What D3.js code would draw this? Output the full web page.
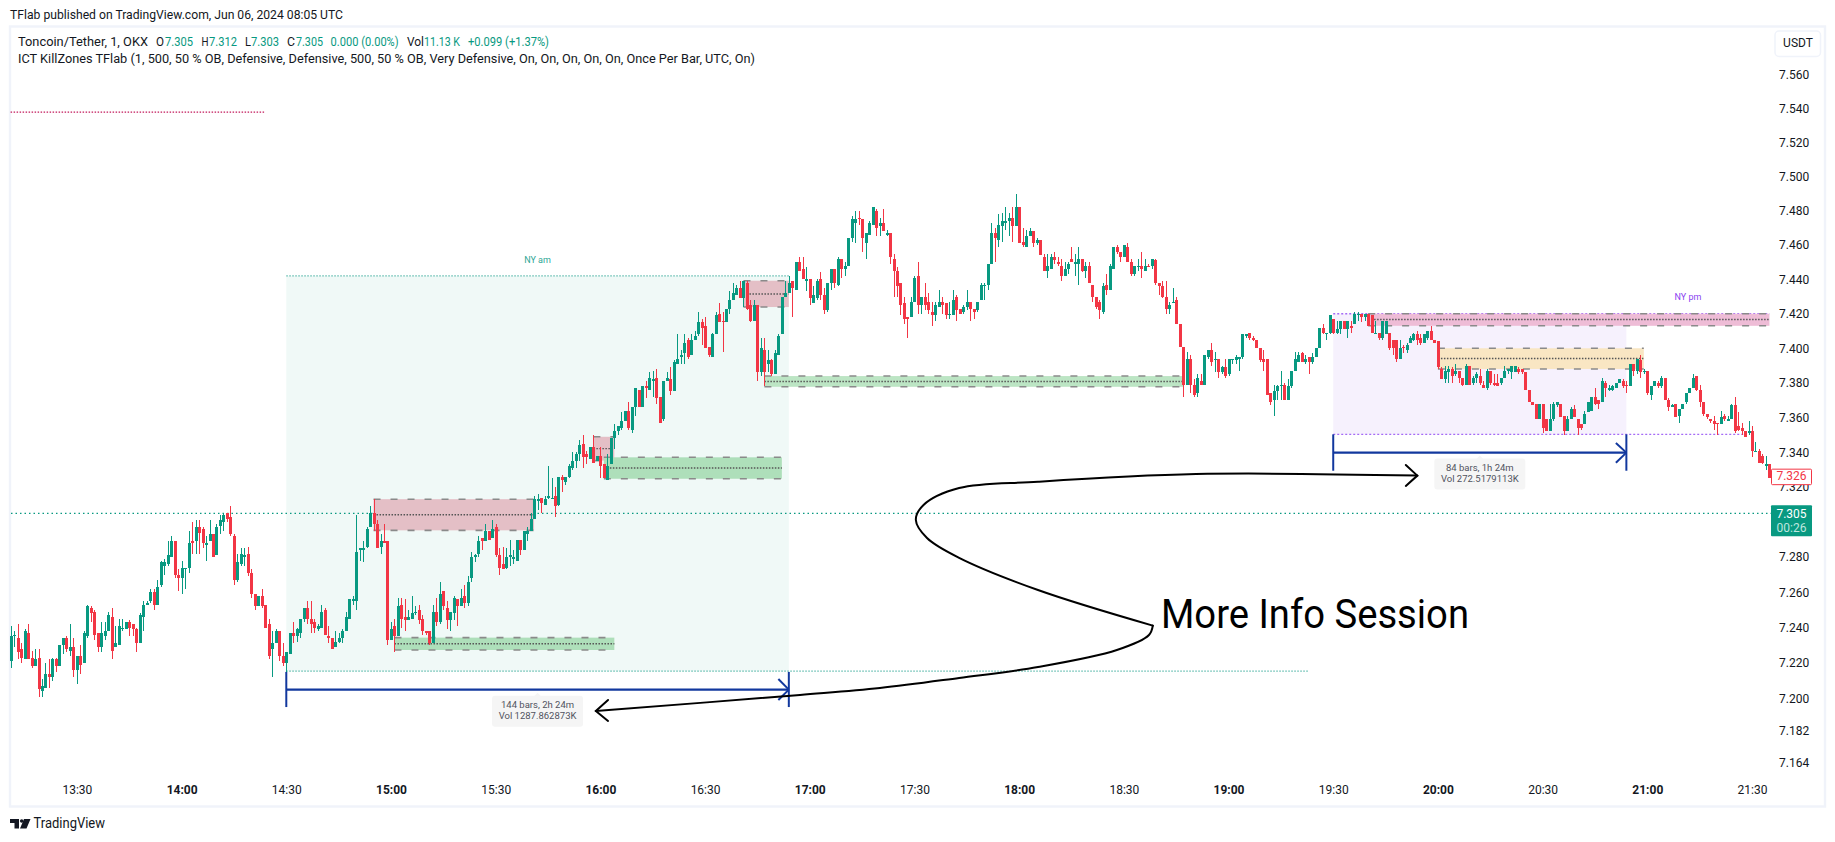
<!DOCTYPE html>
<html><head><meta charset="utf-8">
<style>html,body{margin:0;padding:0;background:#fff;overflow:hidden}svg{display:block}text{font-family:Roboto,"Liberation Sans",sans-serif}</style>
<script src="https://cdnjs.cloudflare.com/ajax/libs/d3/7.8.5/d3.min.js"></script>
</head><body><svg id="c" width="1835" height="842"></svg>
<script>
// Candles: [open, high, low, close] in thousandths above 7.000, one bar per minute from each start time
const startA="13:11";
const candlesA=[[221,241,217,235],[235,238,229,236],[234,242,222,226],[228,231,220,223],[222,239,222,238],[237,242,222,222],[223,227,217,218],[218,228,218,222],[223,228,201,205],[204,211,201,207],[206,220,206,214],[214,222,206,212],[212,223,210,222],[222,223,215,218],[218,230,218,230],[230,234,225,234],[234,235,226,228],[227,242,224,229],[229,234,212,216],[216,224,208,224],[224,230,214,219],[220,238,220,237],[235,253,234,252],[251,252,243,248],[249,250,233,236],[237,237,226,229],[229,243,226,237],[235,243,233,238],[238,249,238,247],[246,251,222,227],[229,241,229,231],[230,245,230,241],[239,245,238,240],[239,243,239,243],[243,244,235,240],[242,242,235,239],[239,240,226,231],[231,248,231,247],[246,255,238,253],[253,255,253,254],[255,262,254,260],[260,262,250,253],[253,267,253,263],[264,278,263,277],[275,279,270,277],[276,289,275,281],[280,292,280,289],[289,289,268,270],[270,273,261,268],[268,278,259,274],[273,274,262,274],[274,295,271,288],[289,300,282,288],[289,301,282,297],[297,301,282,294],[296,297,285,288],[287,292,278,288],[289,301,289,293],[293,293,280,280],[281,299,281,297],[298,304,293,301],[300,305,295,304],[305,305,300,302],[303,309,292,293],[292,293,264,267],[267,282,266,277],[276,285,275,282],[281,285,275,281],[282,286,269,271],[271,273,257,259],[259,259,250,252],[252,258,252,258],[258,262,251,252],[253,253,240,240],[242,245,222,224],[228,238,212,231],[231,239,231,238],[238,238,221,224],[224,231,218,220],[220,226,213,226],[225,237,225,237],[237,243,231,235],[235,240,232,239],[237,245,234,245],[245,251,243,251],[251,255,242,245],[245,255,237,242],[243,245,237,240],[239,242,238,241],[240,253,240,249],[250,251,236,236],[235,241,231,234],[234,234,228,228],[229,238,229,232],[232,237,231,234],[234,239,231,238],[238,249,238,246],[245,256,245,256],[255,258,253,256],[255,304,250,283],[284,285,278,285],[284,289,277,285],[286,297,285,296],[297,309,297,305],[305,313,295,299],[299,301,285,285],[286,293,282,289],[289,299,288,288],[289,289,230,233],[233,243,233,239],[241,245,226,235],[235,257,235,252],[253,257,240,245],[246,256,238,244],[244,250,244,246],[245,258,245,248],[248,252,247,249]];
const startB="15:08";
const candlesB=[[250,253,242,244],[245,247,236,238],[238,238,236,237],[238,238,230,231],[231,253,231,249],[249,257,241,243],[243,266,242,259],[261,261,250,252],[251,255,239,244],[244,249,238,249],[248,258,244,257],[256,256,241,252],[252,262,252,257],[258,264,251,254],[254,269,252,266],[268,283,266,280],[280,282,277,281],[282,292,280,289],[291,291,284,289],[289,299,289,295],[295,295,290,290],[291,301,291,296],[297,299,280,281],[281,285,270,274],[276,286,273,273],[274,285,273,280],[281,290,275,281],[280,284,276,280],[278,290,278,290],[290,290,281,284],[284,295,284,295],[293,297,289,295],[295,305,295,302],[302,315,302,313],[313,316,307,313],[314,314,305,311],[310,315,310,313],[314,332,313,315],[314,325,313,314],[315,320,303,309],[310,326,309,326],[326,327,317,324],[323,326,321,326],[326,333,325,332],[331,340,330,335],[335,340,331,339],[339,347,335,344],[345,350,331,337],[339,341,333,337],[336,343,336,343],[343,350,334,334],[335,338,335,338],[338,343,325,332],[333,333,325,325],[324,339,324,332],[333,348,333,348],[348,356,342,352],[352,355,350,355],[354,363,353,358],[358,364,358,364],[364,369,353,354],[353,366,351,366],[366,377,361,377],[376,376,366,366],[366,378,366,378],[378,381,371,377],[376,386,376,383],[382,387,372,382],[383,388,368,371],[372,372,357,357],[359,381,358,381],[381,386,381,383],[382,389,373,375],[375,393,375,392],[391,408,391,394],[396,399,391,396],[397,408,391,403],[405,406,394,395],[396,408,396,405],[405,410,405,407],[408,421,407,415],[415,417,402,412],[413,418,400,400],[401,401,395,396],[395,409,395,408],[408,421,408,419],[420,426,415,415],[416,421,398,415],[415,423,415,423],[423,433,420,428],[428,438,428,432],[431,437,431,435],[435,439,429,429],[429,439,424,439],[438,439,422,423],[425,428,415,416],[416,428,416,425],[425,425,381,386],[386,406,384,400],[399,406,378,386],[391,399,386,393],[393,394,384,385],[385,399,385,397],[396,408,396,407],[408,430,408,430],[430,439,430,432],[432,442,432,438],[439,439,418,435],[434,450,434,450],[450,453,445,445],[446,453,440,440],[440,447,433,440],[440,440,425,429],[426,436,426,431],[429,440,428,439]];
const startC="17:03";
const candlesC=[[440,444,428,431],[431,435,420,422],[422,438,421,438],[438,446,434,446],[446,446,435,438],[437,453,436,452],[452,452,441,446],[446,450,442,448],[448,464,448,464],[464,477,462,475],[473,480,461,475],[476,480,472,475],[475,475,456,464],[461,467,452,467],[466,474,466,473],[472,482,472,482],[480,481,465,470],[471,476,465,473],[473,481,468,468],[466,469,465,467],[467,467,449,453],[452,455,430,445],[445,447,430,436],[438,438,419,425],[426,430,414,417],[418,418,406,417],[418,430,418,427],[427,442,427,441],[442,450,420,425],[425,430,420,430],[430,438,422,425],[427,432,420,422],[421,427,413,419],[419,427,416,425],[424,434,424,427],[427,430,420,425],[426,426,417,419],[419,427,417,420],[419,434,419,428],[430,431,416,422],[423,423,420,420],[421,425,420,424],[424,434,422,427],[427,427,416,423],[423,423,417,421],[422,427,421,427],[428,438,428,437],[437,438,428,437],[437,449,434,449],[449,473,449,467],[467,470,450,464],[463,478,459,472],[471,479,462,474],[473,482,469,474],[474,479,465,476],[476,482,462,471],[471,490,471,482],[482,482,461,461],[462,470,459,460],[459,469,459,465],[465,470,465,468],[468,468,459,461],[461,464,460,463],[463,463,454,454],[453,455,445,445],[445,455,441,448],[446,455,446,453],[453,456,449,451],[450,453,448,449],[448,452,439,442],[442,450,442,446],[446,450,443,449],[452,459,450,450],[449,455,442,450],[449,459,437,452],[452,452,444,445],[445,450,441,448],[448,450,438,438],[437,437,427,430],[430,430,423,424],[427,428,417,422],[421,438,420,436],[437,443,431,434],[434,449,434,448],[446,459,446,459],[459,460,455,456],[456,456,450,453],[453,460,453,460],[459,461,450,450],[450,452,442,443],[443,448,442,448],[447,452,445,448],[448,456,441,446],[445,452,445,448],[448,449,447,447],[448,452,446,452],[451,452,437,438],[438,438,431,436],[436,439,429,430],[430,439,420,423],[423,427,420,425],[426,435,426,427],[428,430,414,414],[414,414,401,401],[401,401,372,379],[379,398,379,394],[394,396,374,379],[379,382,372,373],[374,385,372,383],[381,385,379,379],[379,396,379,396],[395,399,394,399],[399,403,390,392],[393,398,386,394],[394,394,383,386],[386,390,385,389],[389,394,383,384],[385,394,384,394]];
const startD="19:01";
const candlesD=[[393,394,391,394],[393,396,391,395],[394,395,387,395],[395,408,394,408],[408,408,406,408],[409,409,405,406],[406,407,404,405],[405,405,400,400],[400,400,392,393],[394,399,387,392],[394,394,373,373],[374,374,367,369],[370,379,361,375],[375,379,370,378],[378,387,370,379],[379,380,370,370],[370,382,370,378],[378,387,377,387],[387,398,387,394],[392,398,392,396],[397,398,392,392],[392,396,391,394],[395,395,385,392],[392,397,391,395],[395,400,395,400],[400,412,400,412],[412,414,408,409],[408,409,405,409],[409,419,408,419],[417,417,408,409],[409,416,408,411],[411,416,408,416],[416,416,411,411],[411,416,406,416],[413,416,409,412],[414,421,414,420],[420,421,416,420],[420,420,415,418],[418,420,416,420],[420,420,413,413],[419,419,409,409],[408,416,408,409],[409,409,405,406],[406,416,405,416],[408,416,408,416],[409,409,399,400],[405,405,396,400],[405,405,392,394],[394,405,394,400],[401,402,397,400],[399,403,397,402],[403,407,403,406],[405,409,404,408],[408,410,402,405],[406,408,402,403],[403,408,403,408],[406,410,405,410],[410,413,405,405],[405,405,403,403],[404,404,388,389],[388,389,382,382],[382,390,380,387],[386,390,380,388],[388,389,380,384],[385,391,384,387],[387,387,380,383],[383,383,378,379],[379,391,379,390],[390,390,379,379],[380,384,379,383],[383,386,380,385],[384,388,379,380],[379,381,377,377],[377,388,376,387],[387,387,379,380],[380,385,378,379],[380,385,378,378],[380,383,379,383],[383,390,383,387],[387,388,385,388],[386,390,382,390],[386,390,386,390],[388,389,385,386],[388,388,385,386],[386,386,376,376],[376,376,369,369],[369,369,367,367],[368,368,359,359],[359,368,359,368],[368,368,351,354],[359,359,352,352],[352,368,352,359],[359,369,358,368],[367,369,366,369],[368,368,360,360],[361,361,350,352],[352,361,352,359],[359,366,359,365],[365,367,360,360],[359,359,350,354],[356,356,353,354],[356,364,356,362],[363,369,363,369],[364,372,364,372],[372,377,367,368],[370,370,365,368]];
const startE="20:47";
const candlesE=[[369,383,369,381],[380,381,372,377],[376,379,375,377],[376,379,375,378],[377,380,377,380],[380,382,380,382],[381,382,377,378],[379,381,374,378],[378,391,378,391],[391,391,384,387],[387,394,385,394],[393,396,383,386],[386,388,385,387],[387,387,373,374],[373,378,370,378],[378,381,378,381],[380,381,377,378],[378,384,377,383],[383,383,370,370],[370,371,364,366],[366,368,366,367],[368,368,360,360],[361,365,357,365],[365,368,365,368],[369,374,368,374],[374,377,374,377],[377,385,377,383],[384,384,375,376],[376,379,366,369],[369,369,361,362],[362,362,359,360],[359,359,357,358],[358,361,353,356],[357,357,350,356],[356,364,356,360],[361,362,358,359],[359,361,358,359],[359,368,359,367],[367,372,351,352],[355,363,352,353],[354,357,350,352],[352,352,349,349],[351,358,350,352],[352,355,337,341],[341,346,340,341],[341,342,334,334],[338,339,333,334],[333,338,330,333],[333,333,325,325]];
const chunks=[[startA,candlesA],[startB,candlesB],[startC,candlesC],[startD,candlesD],[startE,candlesE]];

// Axis ticks
const priceTicks=[7.56,7.54,7.52,7.50,7.48,7.46,7.44,7.42,7.40,7.38,7.36,7.34,7.32,7.28,7.26,7.24,7.22,7.20,7.182,7.164];
const timeTicks=["13:30","14:00","14:30","15:00","15:30","16:00","16:30","17:00","17:30","18:00","18:30","19:00","19:30","20:00","20:30","21:00","21:30"];

// Sessions: start, end, high, low
const sessionAmTimes=["14:30","16:54"], sessionAmPrices=[7.442,7.2153], sessionAmLowEnd="19:23";
const sessionPmTimes=["19:30","20:54"], sessionPmPrices=[7.42,7.3503], sessionPmHighEnd="21:35", sessionPmLowEnd="21:28";
const staleLevelTimes=["13:11","14:24"], staleLevelPrice=7.538;
const lastPrice=7.305, prevPrice=7.326;

// Order blocks: start, end, top, middle, bottom
const blockStarts=["14:55","15:01","15:58","16:01","16:41","16:47","19:40","20:00"];
const blockEnds=["15:41","16:04","16:04","16:52","16:54","18:47","21:35","20:59"];
const blockTops=[7.3131,7.2343,7.3489,7.3371,7.4392,7.3839,7.42,7.40];
const blockMids=[7.3042,7.2308,7.3421,7.331,7.4315,7.3808,7.4167,7.3941];
const blockBottoms=[7.2953,7.2273,7.3352,7.3248,7.4239,7.3777,7.413,7.388];
const blockFills=["#e4bfc6","#aedfba","#e4bfc6","#aedfba","#e4bfc6","#bce5c4","#eebcd6","#f9e6c3"];

// Measure tools
const measureTimes=[["14:30","16:54"],["19:30","20:54"]];
const measureTops=[7.2149,7.3503], measureMids=[7.2049,7.3398], measureBottoms=[7.1951,7.3294];
const measureArmTimes=["16:51.2","20:51"];
const measureArmHigh=[7.2109,7.3453], measureArmLow=[7.1991,7.334];
const measureLines=[["144 bars, 2h 24m","Vol 1287.862873K"],["84 bars, 1h 24m","Vol 272.5179113K"]];

// Hand-drawn annotation, minutes after midnight and price
const curveUpMinutes=[1194.1,1130.7,1085.4,1062.8,1052.6,1050.4,1053.6,1062.8,1085.4,1118.3];
const curveUpPrices=[7.3266,7.3275,7.3231,7.3195,7.3098,7.3012,7.2909,7.2796,7.2613,7.2411];
const curveDownMinutes=[1118.3,1117.2,1108,1085.4,1062.8,1040.1,1017.2,958.7];
const curveDownPrices=[7.2411,7.2358,7.2273,7.2177,7.2115,7.2058,7.2019,7.1929];
const arrowRightMinutes=[1190.8,1194.1,1190.8], arrowRightPrices=[7.3327,7.3266,7.3207];
const arrowLeftMinutes=[962.2,958.7,962.2], arrowLeftPrices=[7.1991,7.1929,7.1873];

const UP="#089981",DOWN="#f23645",INK="#131722",FRAME="#f0f3fa",BLUE="#12389e";
const toMin=s=>{const[h,m]=s.split(":");return +h*60+ +m;};
const x=d3.scaleLinear().domain([840,1290]).range([181.6,1752]);
const y=d3.scaleLog().domain([7.164,7.56]).range([762.4,74.9]);
const X=s=>x(toMin(s));
const svg=d3.select("#c");
const PANE_L=11,PRICE_L=1771;

function hline(g,x1,x2,yy,color,dash,w){return g.append("line").attr("x1",x1).attr("x2",x2).attr("y1",yy).attr("y2",yy).attr("stroke",color).attr("stroke-width",w||1).attr("stroke-dasharray",dash||null);}
function txt(g,s,px,py,o={}){const t=g.append("text").attr("x",px).attr("y",py).attr("font-size",o.size||12).attr("fill",o.fill||INK).attr("text-anchor",o.anchor||"start").attr("dominant-baseline","middle").attr("font-weight",o.weight||null).text(s);
 if(o.len)t.attr("textLength",o.len).attr("lengthAdjust","spacingAndGlyphs");if(o.family)t.style("font-family",o.family);return t;}

// frame
svg.append("rect").attr("x",10).attr("y",26.5).attr("width",1815).attr("height",780).attr("fill","#fff").attr("stroke",FRAME).attr("stroke-width",2.4);

// sessions
const sess=svg.append("g");
sess.append("rect").attr("x",X(sessionAmTimes[0])).attr("width",X(sessionAmTimes[1])-X(sessionAmTimes[0])).attr("y",y(sessionAmPrices[0])).attr("height",y(sessionAmPrices[1])-y(sessionAmPrices[0])).attr("fill","#f0f9f7");
sess.append("rect").attr("x",X(sessionPmTimes[0])).attr("width",X(sessionPmTimes[1])-X(sessionPmTimes[0])).attr("y",y(sessionPmPrices[0])).attr("height",y(sessionPmPrices[1])-y(sessionPmPrices[0])).attr("fill","#f6f1fd");
const TEAL2="#5fbcae",PURP="#a56bf5";
hline(sess,X(sessionAmTimes[0]),X(sessionAmTimes[1]),y(sessionAmPrices[0]),TEAL2,"1.5,1.5",1.2);
hline(sess,X(sessionAmTimes[0]),X(sessionAmLowEnd),y(sessionAmPrices[1]),TEAL2,"1.5,1.5",1.2);
hline(sess,X(sessionPmTimes[0]),X(sessionPmHighEnd),y(sessionPmPrices[0]),PURP,"2,2",1.4);
hline(sess,X(sessionPmTimes[0]),X(sessionPmLowEnd),y(sessionPmPrices[1]),PURP,"2,2",1.4);
hline(sess,X(staleLevelTimes[0]),X(staleLevelTimes[1]),y(staleLevelPrice),"#c2185b","1.5,1.5",1.2);
txt(sess,"NY am",(X(sessionAmTimes[0])+X(sessionAmTimes[1]))/2,260.7,{size:9,fill:"#2fa696",anchor:"middle"});
txt(sess,"NY pm",1688,298,{size:9,fill:"#8a3ff0",anchor:"middle"});

// last price line
hline(svg,PANE_L,PRICE_L,y(lastPrice),UP,"1.5,3",1.2);

// order blocks
const bl=svg.append("g");
blockStarts.forEach((s,i)=>{
 const x1=X(s),x2=X(blockEnds[i]);
 bl.append("rect").attr("x",x1).attr("width",x2-x1).attr("y",y(blockTops[i])).attr("height",y(blockBottoms[i])-y(blockTops[i])).attr("fill",blockFills[i]);
 hline(bl,x1,x2,y(blockTops[i]),"#8a8a8a","7,10",1.6);
 hline(bl,x1,x2,y(blockBottoms[i]),"#8a8a8a","7,10",1.6);
 hline(bl,x1,x2,y(blockMids[i]),"#555","1.5,1.5",1.4);
});

// candles
const bars=[];
chunks.forEach(([start,list])=>{const t0=toMin(start);list.forEach((q,i)=>bars.push({t:t0+i,o:7+q[0]/1000,h:7+q[1]/1000,l:7+q[2]/1000,c:7+q[3]/1000}));});
const cg=svg.append("g").attr("shape-rendering","crispEdges");
const col=d=>d.c>=d.o?UP:DOWN;
cg.selectAll(".w").data(bars).join("rect").attr("class","w")
 .attr("x",d=>Math.round(x(d.t))).attr("width",1).attr("y",d=>y(d.h)).attr("height",d=>Math.max(1,y(d.l)-y(d.h))).attr("fill",col);
cg.selectAll(".b").data(bars).join("rect").attr("class","b")
 .attr("x",d=>Math.round(x(d.t))-1).attr("width",3).attr("y",d=>y(Math.max(d.o,d.c))).attr("height",d=>Math.max(1.5,Math.abs(y(d.o)-y(d.c)))).attr("fill",col);

// measure tools
const mg=svg.append("g");
measureTimes.forEach((t,i)=>{
 const x1=X(t[0]),x2=X(t[1]);
 const stroke=(a,b,c,d,w)=>mg.append("line").attr("x1",a).attr("y1",b).attr("x2",c).attr("y2",d).attr("stroke",BLUE).attr("stroke-width",w);
 stroke(x1,y(measureTops[i]),x1,y(measureBottoms[i]),2);
 stroke(x2,y(measureTops[i]),x2,y(measureBottoms[i]),2);
 stroke(x1,y(measureMids[i]),x2,y(measureMids[i]),2.2);
 const ax=X(measureArmTimes[i].split(".")[0]);
 stroke(ax,y(measureArmHigh[i]),x2,y(measureMids[i]),2);
 stroke(ax,y(measureArmLow[i]),x2,y(measureMids[i]),2);
 const cx=(x1+x2)/2, top=y(measureMids[i])+6;
 mg.append("path").attr("d",`M${cx-4},${top+1} L${cx},${top-3} L${cx+4},${top+1}Z`).attr("fill","#f5f5f5");
 mg.append("rect").attr("x",cx-45.5).attr("y",top).attr("width",91).attr("height",31).attr("rx",3).attr("fill","#f5f5f5");
 txt(mg,measureLines[i][0],cx,top+9.5,{size:9.5,fill:"#50535e",anchor:"middle"});
 txt(mg,measureLines[i][1],cx,top+20.5,{size:9.5,fill:"#50535e",anchor:"middle"});
});

// annotation
const ag=svg.append("g").attr("fill","none").attr("stroke","#000").attr("stroke-width",2).attr("stroke-linecap","round");
const lineGen=d3.line().x(d=>x(d[0])).y(d=>y(d[1]));
const smooth=lineGen.curve(d3.curveCatmullRom.alpha(0.5));
ag.append("path").attr("d",smooth(d3.zip(curveUpMinutes,curveUpPrices)));
ag.append("path").attr("d",smooth(d3.zip(curveDownMinutes,curveDownPrices)));
const straight=d3.line().x(d=>x(d[0])).y(d=>y(d[1]));
ag.append("path").attr("d",straight(d3.zip(arrowRightMinutes,arrowRightPrices)));
ag.append("path").attr("d",straight(d3.zip(arrowLeftMinutes,arrowLeftPrices)));
svg.append("text").attr("x",1161).attr("y",628).attr("font-size",40).attr("fill","#000").attr("textLength",308).attr("lengthAdjust","spacingAndGlyphs").text("More Info Session");

// axes
const xAxis=d3.axisBottom(x).tickValues(timeTicks.map(toMin)).tickSize(0).tickPadding(6).tickFormat(m=>timeTicks[timeTicks.map(toMin).indexOf(m)]);
const gx=svg.append("g").attr("transform","translate(0,779)").call(xAxis);
gx.select(".domain").remove();
gx.selectAll("text").attr("font-size",12).attr("fill",INK).style("font-family","Roboto,sans-serif").attr("font-weight",(m)=>m%60===0?700:400);
const yAxis=d3.axisRight(y).tickValues(priceTicks).tickSize(0).tickPadding(0).tickFormat(d3.format(".3f"));
const gy=svg.append("g").attr("transform","translate(1779,0)").call(yAxis);
gy.select(".domain").remove();
gy.selectAll("text").attr("font-size",12).attr("fill",INK).style("font-family","Roboto,sans-serif");

// price tags
const tg=svg.append("g");
tg.append("rect").attr("x",1771.5).attr("width",40).attr("y",y(prevPrice)-7.5).attr("height",15.5).attr("rx",1).attr("fill","#fff").attr("stroke",DOWN);
txt(tg,d3.format(".3f")(prevPrice),1791.5,y(prevPrice)+0.5,{fill:DOWN,anchor:"middle"});
tg.append("rect").attr("x",1771).attr("width",41).attr("y",y(lastPrice)-8).attr("height",31).attr("rx",1).attr("fill",UP);
txt(tg,d3.format(".3f")(lastPrice),1791.5,y(lastPrice)+1,{fill:"#fff",anchor:"middle"});
txt(tg,"00:26",1791.5,y(lastPrice)+15,{fill:"#bfe6df",anchor:"middle"});

// USDT button
svg.append("rect").attr("x",1775).attr("y",31).attr("width",45.5).attr("height",25.5).attr("rx",4).attr("fill","#fff").attr("stroke",FRAME).attr("stroke-width",1.5);
txt(svg,"USDT",1798,44,{size:12,anchor:"middle"});

// headers
txt(svg,"TFlab published on TradingView.com, Jun 06, 2024 08:05 UTC",10,15.5,{size:13,len:333});
const legend=[["Toncoin/Tether, 1, OKX",18,130,INK],["O",156,8,INK],["7.305",165,28,UP],["H",201.5,7,INK],["7.312",209,28,UP],["L",245,6,INK],["7.303",251,28,UP],["C",287,8,INK],["7.305",296,27,UP],["0.000 (0.00%)",330.6,68,UP],["Vol",407,17,INK],["11.13 K",424,36,UP],["+0.099 (+1.37%)",468,81,UP]];
legend.forEach(l=>txt(svg,l[0],l[1],42.5,{size:12.5,fill:l[3],len:l[2]}));
txt(svg,"ICT KillZones TFlab (1, 500, 50 % OB, Defensive, Defensive, 500, 50 % OB, Very Defensive, On, On, On, On, On, Once Per Bar, UTC, On)",18,59.5,{size:12.5,len:737});

// brand
svg.append("path").attr("d","M10,819 h9 v9.5 h-4.5 v-5.5 h-4.5Z M24,819 h6.5 l-4,9.5 h-6.5Z").attr("fill",INK);
svg.append("circle").attr("cx",21.7).attr("cy",821).attr("r",1.8).attr("fill",INK);
txt(svg,"TradingView",33.5,824,{size:14,len:71.5});
</script></body></html>
